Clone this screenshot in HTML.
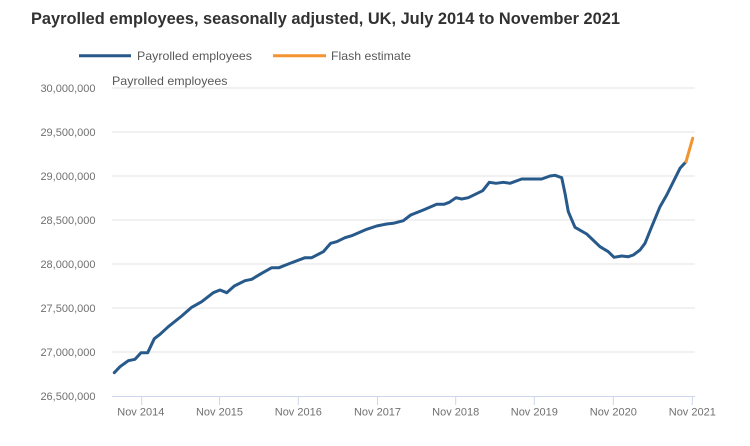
<!DOCTYPE html>
<html>
<head>
<meta charset="utf-8">
<style>
  html,body{margin:0;padding:0;background:#fff;}
  svg{display:block;}
  text{font-family:"Liberation Sans",sans-serif;}
</style>
</head>
<body>
<svg width="750" height="446" viewBox="0 0 750 446" xmlns="http://www.w3.org/2000/svg">
  <rect width="750" height="446" fill="#fff"/>
  <!-- Title -->
  <text x="31" y="24" font-size="16.5" font-weight="bold" fill="#323132" textLength="589" lengthAdjust="spacingAndGlyphs">Payrolled employees, seasonally adjusted, UK, July 2014 to November 2021</text>

  <!-- Legend -->
  <line x1="79" y1="55.7" x2="131" y2="55.7" stroke="#27598a" stroke-width="3"/>
  <text x="137" y="60" font-size="12" fill="#595959" textLength="115" lengthAdjust="spacingAndGlyphs">Payrolled employees</text>
  <line x1="273" y1="55.7" x2="326" y2="55.7" stroke="#f39431" stroke-width="3"/>
  <text x="331" y="60" font-size="12" fill="#595959" textLength="80" lengthAdjust="spacingAndGlyphs">Flash estimate</text>

  <!-- Axis title -->
  <text x="112" y="85" font-size="12" fill="#595959" textLength="115.5" lengthAdjust="spacingAndGlyphs">Payrolled employees</text>

  <!-- Gridlines -->
  <g stroke="#e3e3e3" stroke-width="1">
    <line x1="112" y1="88" x2="695" y2="88"/>
    <line x1="112" y1="132" x2="695" y2="132"/>
    <line x1="112" y1="176" x2="695" y2="176"/>
    <line x1="112" y1="220" x2="695" y2="220"/>
    <line x1="112" y1="264" x2="695" y2="264"/>
    <line x1="112" y1="308" x2="695" y2="308"/>
    <line x1="112" y1="352" x2="695" y2="352"/>
  </g>
  <!-- X axis -->
  <line x1="112" y1="396.5" x2="695" y2="396.5" stroke="#ccd6eb" stroke-width="1"/>
  <g stroke="#ccd6eb" stroke-width="1">
    <line x1="141.7" y1="396" x2="141.7" y2="405"/>
    <line x1="219.5" y1="396" x2="219.5" y2="405"/>
    <line x1="298.3" y1="396" x2="298.3" y2="405"/>
    <line x1="377.5" y1="396" x2="377.5" y2="405"/>
    <line x1="455.7" y1="396" x2="455.7" y2="405"/>
    <line x1="534.3" y1="396" x2="534.3" y2="405"/>
    <line x1="613.3" y1="396" x2="613.3" y2="405"/>
    <line x1="692.3" y1="396" x2="692.3" y2="405"/>
  </g>

  <!-- Y labels -->
  <g font-size="11" fill="#707070" text-anchor="end">
    <text x="95.5" y="92">30,000,000</text>
    <text x="95.5" y="136">29,500,000</text>
    <text x="95.5" y="180">29,000,000</text>
    <text x="95.5" y="224">28,500,000</text>
    <text x="95.5" y="268">28,000,000</text>
    <text x="95.5" y="312">27,500,000</text>
    <text x="95.5" y="356">27,000,000</text>
    <text x="95.5" y="400">26,500,000</text>
  </g>

  <!-- X labels -->
  <g font-size="11" fill="#707070" text-anchor="middle">
    <text x="140.8" y="415.5">Nov 2014</text>
    <text x="219.5" y="415.5">Nov 2015</text>
    <text x="298.3" y="415.5">Nov 2016</text>
    <text x="377.5" y="415.5">Nov 2017</text>
    <text x="455.7" y="415.5">Nov 2018</text>
    <text x="534.3" y="415.5">Nov 2019</text>
    <text x="613.3" y="415.5">Nov 2020</text>
    <text x="692.3" y="415.5">Nov 2021</text>
  </g>

  <!-- Series -->
  <polyline fill="none" stroke="#27598a" stroke-width="3" stroke-linejoin="round" stroke-linecap="round"
    points="114.3,372.7 120,366.7 128.3,360.7 135,359.3 141,352.7 147.7,352.7 154.3,338.7 160,334.3 168.3,326.7 181.7,316 191.7,307.3 201.7,301.7 213.3,292.7 220,290 226.7,292.7 234.3,286 245,280.7 251.7,279.3 261.7,273.3 271.7,267.7 279,267.7 288.3,264 305,257.7 311.7,257.7 323.3,251.7 330.7,243.3 336.7,241.7 345,237.7 351.7,235.7 366.7,229.3 376.7,226 386.7,224 393.3,223.3 403.3,220.7 410.7,215 423.3,210 436.7,204.3 444,204.3 449.3,202.3 456,197.7 461.7,199 468.3,197.7 482.7,190.7 489.3,182.3 496,183.3 503.3,182.3 510,183.3 521.7,179 541.7,179 550,176 555,175.3 561.7,177.7 565,193.3 568.3,211.7 575,227.3 586.7,234 600,246.7 608.3,251.7 614,257.3 621.7,256 628.3,256.7 633.3,255 640,250 645,243.3 651.7,226.7 660,206.7 666.7,195 680,168.3 686,161.7"/>
  <polyline fill="none" stroke="#f39431" stroke-width="3" stroke-linejoin="round" stroke-linecap="round"
    points="686,161.7 692.7,138.3"/>
</svg>
</body>
</html>
